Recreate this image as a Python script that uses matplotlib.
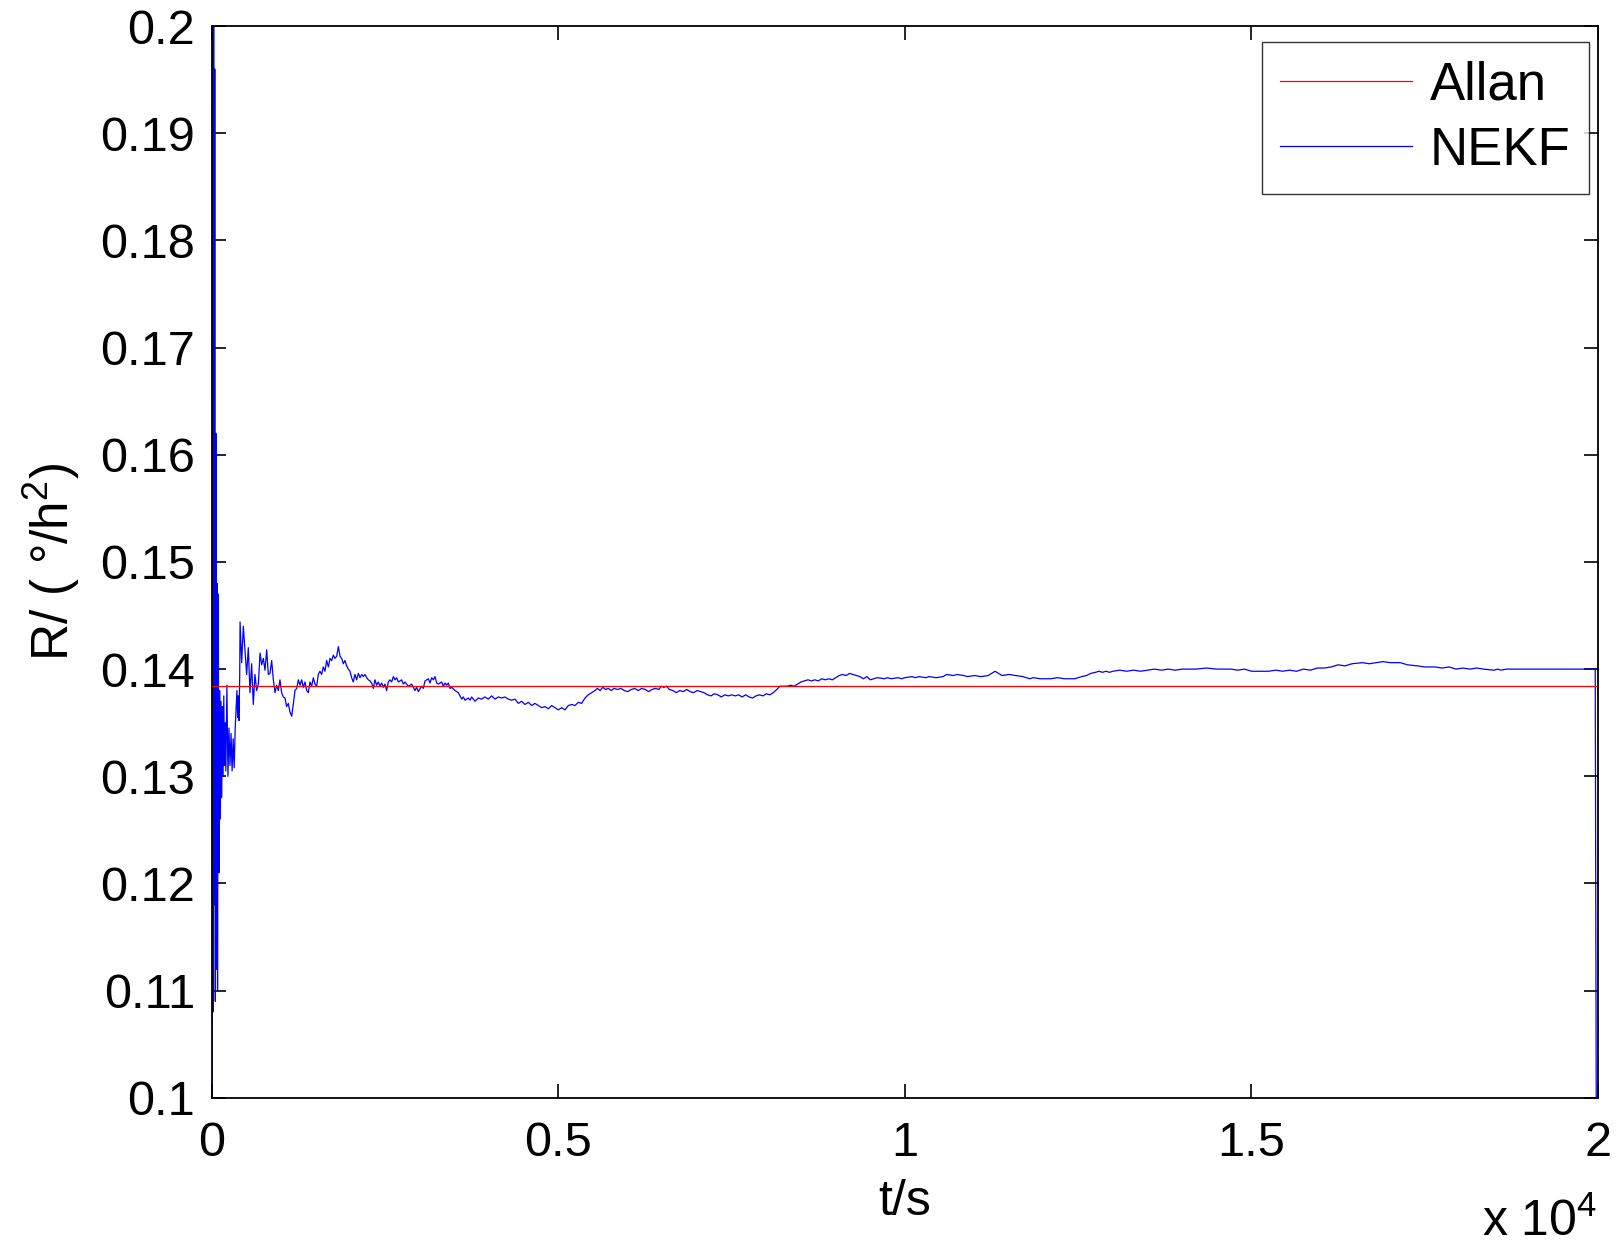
import matplotlib
matplotlib.use("Agg")
import matplotlib.pyplot as plt

plt.rcParams["font.family"] = ["Liberation Sans", "DejaVu Sans"]
plt.rcParams["mathtext.fontset"] = "custom"
plt.rcParams["mathtext.rm"] = "Liberation Sans"

# Allan variance estimate (constant)
ALLAN = 0.1384

# NEKF estimate in four stretches
T_A = [0, 8, 16, 24, 32, 40, 48, 56, 64, 72, 80, 90, 100, 110, 120, 130, 140, 150,
       160, 170, 180, 190, 200, 215, 230, 245, 260, 275, 290, 305, 320, 335, 350,
       360, 370, 380, 390, 400, 405]
R_A = [0.095, 0.215, 0.108, 0.212, 0.118, 0.196, 0.109, 0.162, 0.112, 0.148, 0.110,
       0.147, 0.121, 0.138, 0.126, 0.137, 0.128, 0.1365, 0.130, 0.1375, 0.131, 0.135,
       0.1305, 0.1385, 0.1300, 0.1345, 0.1310, 0.1340, 0.1305, 0.1335, 0.1308, 0.1345,
       0.1365, 0.1380, 0.1355, 0.1375, 0.1352, 0.1395, 0.1444]

T_B = [428, 452, 476, 500, 524, 548, 572, 596, 620, 644, 669, 693, 717, 741, 765, 789,
       813, 837, 861, 885, 909, 933, 957, 981, 1005, 1029, 1053, 1077, 1101, 1125, 1150,
       1174, 1198, 1222, 1246, 1270, 1294, 1318, 1342, 1366, 1390, 1414, 1438, 1462,
       1486, 1510, 1534, 1558, 1582, 1606, 1630, 1655, 1679, 1703, 1727, 1751, 1775,
       1799, 1823, 1847, 1871, 1895, 1919, 1943, 1967, 1991, 2015, 2039, 2063, 2087,
       2112, 2136, 2160, 2184, 2208, 2232, 2256, 2280, 2304, 2328, 2352, 2376, 2400,
       2424, 2448, 2472, 2496, 2520, 2544, 2568, 2593, 2617, 2641, 2665, 2689, 2737,
       2761, 2785, 2833, 2881, 2929, 2953, 2977, 3025, 3049, 3074, 3122, 3146, 3170,
       3194, 3218, 3242, 3266, 3314, 3338, 3362, 3386, 3410, 3434, 3458, 3506, 3554,
       3603, 3627, 3651, 3699, 3723, 3747, 3795, 3843, 3891, 3939, 3987, 4035, 4084,
       4132, 4180, 4228, 4276, 4324, 4372, 4420, 4468, 4516, 4565, 4613, 4661, 4709,
       4757, 4805, 4853, 4901, 4949, 4997, 5046, 5094, 5142, 5190, 5238, 5286, 5334,
       5382, 5430, 5478]
R_B = [0.1406, 0.1440, 0.1418, 0.1395, 0.1420, 0.1378, 0.1405, 0.1367, 0.1395, 0.1380,
       0.1386, 0.1415, 0.1404, 0.1410, 0.1399, 0.1418, 0.1395, 0.1396, 0.1408, 0.1390,
       0.1378, 0.1385, 0.1380, 0.1390, 0.1378, 0.1374, 0.1373, 0.1365, 0.1368, 0.1360,
       0.1356, 0.1368, 0.1380, 0.1382, 0.1390, 0.1385, 0.1390, 0.1383, 0.1388, 0.1380,
       0.1378, 0.1388, 0.1384, 0.1392, 0.1386, 0.1384, 0.1395, 0.1398, 0.1395, 0.1402,
       0.1398, 0.1408, 0.1402, 0.1410, 0.1408, 0.1413, 0.1410, 0.1412, 0.1421, 0.1412,
       0.1410, 0.1405, 0.1408, 0.1403, 0.1400, 0.1398, 0.1392, 0.1388, 0.1395, 0.1390,
       0.1396, 0.1392, 0.1395, 0.1393, 0.1395, 0.1392, 0.1390, 0.1389, 0.1387, 0.1382,
       0.1390, 0.1385, 0.1388, 0.1384, 0.1387, 0.1383, 0.1386, 0.1380, 0.1388, 0.1390,
       0.1388, 0.1393, 0.1390, 0.1392, 0.1388, 0.1390, 0.1386, 0.1388, 0.1384, 0.1386,
       0.1380, 0.1383, 0.1379, 0.1384, 0.1382, 0.1389, 0.1391, 0.1387, 0.1392, 0.1390,
       0.1393, 0.1387, 0.1386, 0.1388, 0.1384, 0.1387, 0.1385, 0.1387, 0.1382, 0.1383,
       0.1380, 0.1378, 0.1372, 0.1374, 0.1371, 0.1373, 0.1371, 0.1374, 0.1370, 0.1373,
       0.1372, 0.1374, 0.1372, 0.1375, 0.1372, 0.1374, 0.1373, 0.1374, 0.1372, 0.1371,
       0.1372, 0.1368, 0.1370, 0.1367, 0.1369, 0.1366, 0.1368, 0.1366, 0.1364, 0.1365,
       0.1363, 0.1366, 0.1364, 0.1362, 0.1364, 0.1362, 0.1366, 0.1367, 0.1366, 0.1369,
       0.1368, 0.1373, 0.1376, 0.1378]

T_C = [5527, 5560, 5600, 5640, 5680, 5720, 5760, 5800, 5850, 5900, 5950, 6000, 6050,
       6100, 6150, 6200, 6250, 6300, 6350, 6400, 6450, 6480, 6520, 6560, 6600, 6650,
       6700, 6750, 6800, 6850, 6900, 6950, 7000, 7050, 7100, 7150, 7200, 7250, 7300,
       7350, 7400, 7450, 7500, 7550, 7600, 7650, 7700, 7750, 7800, 7850, 7900, 7950,
       8000, 8050, 8100, 8150, 8196, 8300, 8350, 8400, 8450, 8500, 8550, 8600, 8650,
       8700, 8750, 8800, 8850, 8900, 8950, 9000, 9050, 9100, 9150, 9200, 9250, 9300,
       9350, 9400, 9450, 9500, 9550, 9600, 9700, 9750, 9800, 9900, 9950, 10000, 10100,
       10150, 10200, 10300, 10350, 10450, 10550, 10600, 10700, 10750, 10850, 10900,
       11000, 11100, 11200, 11250, 11300, 11350, 11400, 11500, 11600, 11700, 11800,
       11850, 11950, 12100, 12200, 12300, 12450]
R_C = [0.1380, 0.1382, 0.1380, 0.1383, 0.1381, 0.1382, 0.1380, 0.1382, 0.1381, 0.1382,
       0.1380, 0.1379, 0.1381, 0.1382, 0.1380, 0.1382, 0.1381, 0.1379, 0.1381, 0.1382,
       0.1381, 0.1384, 0.1383, 0.1384, 0.1381, 0.1380, 0.1378, 0.1380, 0.1379, 0.1381,
       0.1379, 0.1378, 0.1380, 0.1379, 0.1378, 0.1376, 0.1375, 0.1377, 0.1376, 0.1374,
       0.1376, 0.1375, 0.1376, 0.1375, 0.1376, 0.1374, 0.1376, 0.1374, 0.1373, 0.1375,
       0.1376, 0.1375, 0.1377, 0.1376, 0.1378, 0.1381, 0.1384, 0.1384, 0.1385, 0.1384,
       0.1386, 0.1388, 0.1389, 0.1390, 0.1389, 0.1390, 0.1389, 0.1391, 0.1390, 0.1391,
       0.1390, 0.1392, 0.1394, 0.1395, 0.1394, 0.1396, 0.1395, 0.1394, 0.1393, 0.1391,
       0.1393, 0.1390, 0.1391, 0.1392, 0.1391, 0.1392, 0.1391, 0.1392, 0.1391, 0.1392,
       0.1393, 0.1392, 0.1393, 0.1392, 0.1393, 0.1392, 0.1393, 0.1395, 0.1394, 0.1395,
       0.1394, 0.1393, 0.1394, 0.1393, 0.1394, 0.1396, 0.1398, 0.1396, 0.1394, 0.1395,
       0.1394, 0.1393, 0.1391, 0.1392, 0.1391, 0.1391, 0.1392, 0.1391, 0.1391]

T_D = [12550, 12620, 12680, 12750, 12800, 12850, 12900, 12950, 13000, 13100, 13200,
       13300, 13400, 13500, 13600, 13700, 13800, 13900, 14000, 14200, 14350, 14500,
       14700, 14800, 14900, 15000, 15250, 15350, 15450, 15550, 15650, 15750, 15850,
       15950, 16050, 16150, 16250, 16350, 16450, 16600, 16700, 16800, 16900, 17000,
       17150, 17250, 17400, 17500, 17650, 17750, 17850, 17950, 18050, 18150, 18250,
       18350, 18500, 18550, 18600, 18680, 18800, 19200, 19600, 19960, 19975]
R_D = [0.1393, 0.1394, 0.1396, 0.1397, 0.1398, 0.1397, 0.1398, 0.1397, 0.1398, 0.1399,
       0.1398, 0.1399, 0.1398, 0.1399, 0.1400, 0.1399, 0.1400, 0.1399, 0.1400, 0.1400,
       0.1401, 0.1400, 0.1400, 0.1399, 0.1400, 0.1398, 0.1398, 0.1399, 0.1398, 0.1399,
       0.1398, 0.1400, 0.1399, 0.1401, 0.1401, 0.1402, 0.1404, 0.1403, 0.1405, 0.1406,
       0.1405, 0.1406, 0.1407, 0.1406, 0.1406, 0.1404, 0.1403, 0.1402, 0.1402, 0.1401,
       0.1402, 0.1400, 0.1401, 0.1400, 0.1401, 0.1400, 0.1399, 0.1400, 0.1399, 0.1400,
       0.1400, 0.1400, 0.1400, 0.1400, 0.0980]

XTICKS = [0, 5000, 10000, 15000, 20000]
XTICK_LABELS = ["0", "0.5", "1", "1.5", "2"]
YTICKS = [0.10, 0.11, 0.12, 0.13, 0.14, 0.15, 0.16, 0.17, 0.18, 0.19, 0.20]
YTICK_LABELS = ["0.1", "0.11", "0.12", "0.13", "0.14", "0.15", "0.16", "0.17",
                "0.18", "0.19", "0.2"]

FS = 35

fig = plt.figure(figsize=(16.22, 12.46), dpi=100)
ax = fig.add_axes([0.1307, 0.119, 0.8545, 0.860])

t = T_A + T_B + T_C + T_D
r = R_A + R_B + R_C + R_D
ax.axhline(ALLAN, color="#ff0000", lw=0.9, zorder=3, label="Allan")
ax.plot(t, r, color="#0000ff", lw=0.9, zorder=2, label="NEKF")

ax.set_xlim(0, 20000)
ax.set_ylim(0.1, 0.2)
ax.set_xticks(XTICKS)
ax.set_xticklabels(XTICK_LABELS)
ax.set_yticks(YTICKS)
ax.set_yticklabels(YTICK_LABELS)
ax.tick_params(direction="in", length=10, width=1.2, labelsize=FS,
               top=True, right=True)
ax.tick_params(axis="x", pad=17)
ax.tick_params(axis="y", pad=12)
for s in ax.spines.values():
    s.set_linewidth(1.3)

ax.set_xlabel("t/s", fontsize=FS + 1, labelpad=9)
ax.set_ylabel("R/ ( °/h$^{2}$)", fontsize=FS + 2, labelpad=13)
fig.text(0.985, 0.008, r"x 10$^{4}$", fontsize=FS + 1, ha="right", va="baseline")

leg = ax.legend(loc="upper right", bbox_to_anchor=(0.9795, 0.966),
                bbox_transform=fig.transFigure, fontsize=38, frameon=True,
                fancybox=False, edgecolor="black", handlelength=2.5,
                handletextpad=0.33, borderpad=0.35, labelspacing=0.28,
                borderaxespad=0)
leg.get_frame().set_linewidth(1.0)

fig.savefig("out.png", dpi=100)
